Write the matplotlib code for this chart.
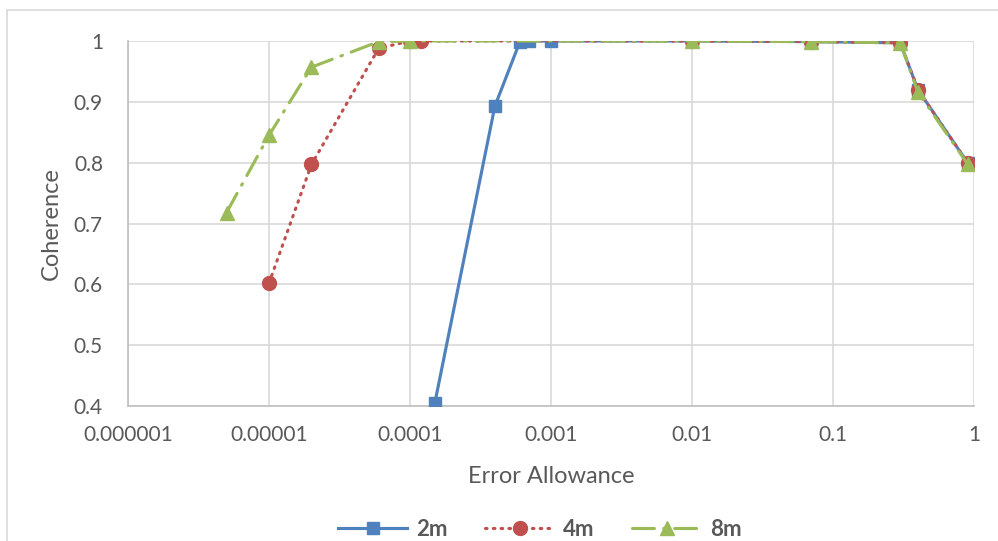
"""Coherence vs error allowance for three window lengths."""

import matplotlib
matplotlib.use("Agg")
import matplotlib.pyplot as plt
from matplotlib.patches import Rectangle

# Data
x_2m = [1.5e-4, 4e-4, 6e-4, 7e-4, 1e-3, 1e-2, 7e-2, 0.3, 0.4, 0.9]
y_2m = [0.405, 0.893, 0.998, 1.0, 1.0, 1.0, 0.999, 0.997, 0.92, 0.80]

x_4m = [1e-5, 2e-5, 6e-5, 1e-4, 1.2e-4, 1e-2, 7e-2, 0.3, 0.4, 0.9]
y_4m = [0.602, 0.797, 0.988, 1.0, 1.0, 1.0, 0.999, 0.997, 0.92, 0.80]

x_8m = [5e-6, 1e-5, 2e-5, 6e-5, 1e-4, 1e-2, 7e-2, 0.3, 0.4, 0.9]
y_8m = [0.718, 0.845, 0.957, 0.999, 1.0, 1.0, 0.999, 0.997, 0.916, 0.798]

x_ticks = [1e-6, 1e-5, 1e-4, 1e-3, 1e-2, 1e-1, 1]
x_tick_labels = ["0.000001", "0.00001", "0.0001", "0.001", "0.01", "0.1", "1"]
y_ticks = [0.4, 0.5, 0.6, 0.7, 0.8, 0.9, 1.0]
y_tick_labels = ["0.4", "0.5", "0.6", "0.7", "0.8", "0.9", "1"]

plt.rcParams['font.family'] = ['Lato', 'DejaVu Sans']

W, H = 998, 541
fig = plt.figure(figsize=(W / 100, H / 100), dpi=100)

# Plot area in pixels: left 128, right 974, top 41, bottom 406
ax = fig.add_axes([128 / W, (H - 406) / H, (974 - 128) / W, (406 - 41) / H])

blue, red, green = '#4F81BD', '#C0504D', '#9BBB59'
text_gray = '#595959'
grid_gray = '#d9d9d9'

ax.plot(x_2m, y_2m, color=blue, linewidth=2.25, marker='s', markersize=9,
        label='2m', zorder=3)
ax.plot(x_4m, y_4m, color=red, linewidth=2.25, linestyle=(0, (0.5, 2.0)),
        dash_capstyle='round', marker='o', markersize=10, label='4m', zorder=4)
ax.plot(x_8m, y_8m, color=green, linewidth=2.25, linestyle=(0, (7, 3, 0.5, 3)),
        dash_capstyle='round', marker='^', markersize=10, label='8m', zorder=5)

ax.set_xscale('log')
ax.set_xlim(1e-6, 1)
ax.set_ylim(0.4, 1.0)
ax.set_xticks(x_ticks)
ax.set_xticklabels(x_tick_labels)
ax.set_xticks([], minor=True)
ax.set_yticks(y_ticks)
ax.set_yticklabels(y_tick_labels)

ax.grid(True, color=grid_gray, linewidth=1.2)
ax.set_axisbelow(True)
for side in ['top', 'right']:
    ax.spines[side].set_visible(False)
for side in ['left', 'bottom']:
    ax.spines[side].set_color('#bfbfbf')
    ax.spines[side].set_linewidth(1.2)

ax.tick_params(axis='both', length=0, labelsize=15, labelcolor=text_gray)
ax.tick_params(axis='x', pad=14)
ax.tick_params(axis='y', pad=18)

ax.set_xlabel('Error Allowance', fontsize=17, color=text_gray)
ax.set_ylabel('Coherence', fontsize=17, color=text_gray)
ax.xaxis.set_label_coords((551 - 128) / (974 - 128), -(466 - 406) / (406 - 41))
ax.yaxis.set_label_coords(-(128 - 62) / (974 - 128), (406 - 224) / (406 - 41))

leg = fig.legend(loc='center', bbox_to_anchor=(540 / W, 1 - 529 / H), ncol=3,
                 frameon=False, handlelength=3.1, columnspacing=1.7,
                 handletextpad=0.4, prop={'weight': 'bold', 'size': 16})
for t in leg.get_texts():
    t.set_color(text_gray)

# Outer chart border (top and left edges visible)
fig.add_artist(Rectangle((7 / W, -0.1), 1.2, 1.1 - 10.5 / H, transform=fig.transFigure,
                         fill=False, edgecolor=grid_gray, linewidth=1.2))

fig.savefig('out.png', dpi=100)
plt.close(fig)
